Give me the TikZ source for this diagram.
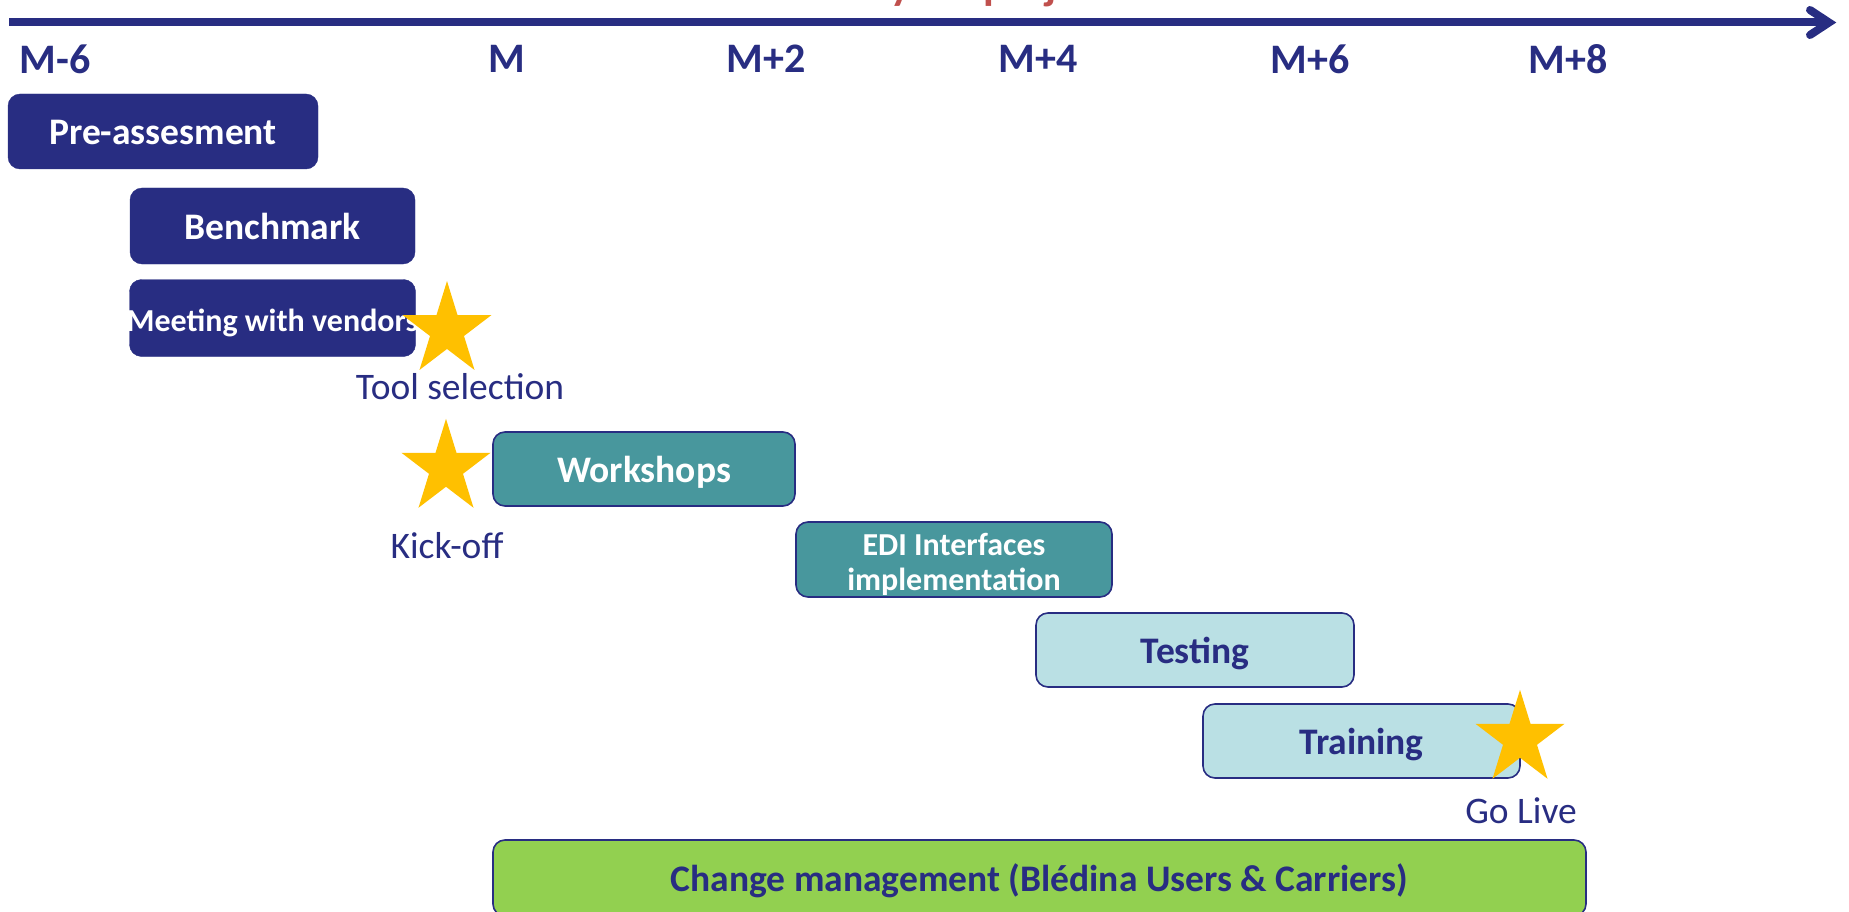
\documentclass[tikz,border=0pt]{standalone}
\usepackage{fontspec}
\setmainfont{Carlito}
\usetikzlibrary{shapes.geometric}
\definecolor{navy}{HTML}{282D82}
\definecolor{tealb}{HTML}{48979D}
\definecolor{lightb}{HTML}{BAE0E4}
\definecolor{greenb}{HTML}{92D050}
\definecolor{gold}{HTML}{FFC000}
\definecolor{redt}{HTML}{C0504D}
\tikzset{
 bar/.style={rectangle, rounded corners=12pt, inner sep=0pt, text height=34pt, text depth=7pt, font=\bfseries\fontsize{37.5}{40}\selectfont, align=center},
 darkbar/.style={bar, fill=navy, draw=navy, text=white},
 tealbar/.style={bar, fill=tealb, draw=navy, line width=1.6pt, text=white},
 lightbar/.style={bar, fill=lightb, draw=navy, line width=1.6pt, text=navy},
 greenbar/.style={bar, fill=greenb, draw=navy, line width=1.6pt, text=navy},
 milestar/.style={star, star points=5, star point ratio=2.618, fill=gold, draw=none, minimum size=93.6pt, inner sep=0pt, yscale=1.05},
 miletext/.style={text=navy, font=\fontsize{37.5}{40}\selectfont, inner sep=0pt},
 monthlabel/.style={text=navy, font=\bfseries\fontsize{42}{46}\selectfont, inner sep=0pt},
 axisline/.style={draw=navy, line width=8pt}
}
\begin{document}
\begin{tikzpicture}[x=1pt,y=-1pt]
\useasboundingbox (0,0) rectangle (1849,912);
% title (cut off at the top edge)
\node[text=redt, font=\bfseries\fontsize{44}{48}\selectfont, anchor=base west, inner sep=0pt] (title) at (890,0) {your project};
% axis
\coordinate (axL) at (9,22.5);
\coordinate (axR) at (1829,22.5);
\coordinate (chevT) at (1810,10);
\coordinate (chevB) at (1810,35);
\draw[axisline] (axL) -- (axR);
\draw[axisline, line join=miter, line cap=round] (chevT) -- (axR) -- (chevB);
% month labels
\node[monthlabel] (m6) at (55,59) {M-6};
\node[monthlabel] (m0) at (507,59) {M};
\node[monthlabel] (m2) at (766,59) {M+2};
\node[monthlabel] (m4) at (1038,59) {M+4};
\node[monthlabel] (m6b) at (1310,59) {M+6};
\node[monthlabel] (m8) at (1568,59) {M+8};
% bars
\node[darkbar, minimum width=310pt, minimum height=75pt] (pre) at (163,131.5) {Pre-assesment};
\node[darkbar, minimum width=285pt, minimum height=76pt] (bench) at (272.5,226) {Benchmark};
\node[darkbar, minimum width=286pt, minimum height=77pt, font=\bfseries\fontsize{32}{35}\selectfont] (meet) at (272.5,318) {\makebox[0pt]{Meeting with vendors}};
\node[tealbar, minimum width=302pt, minimum height=74pt] (work) at (644,469) {Workshops};
\node[tealbar, minimum width=316pt, minimum height=75pt] (edi) at (954,559.5) {};
\node[text=white, font=\bfseries\fontsize{32}{35}\selectfont, align=center, inner sep=0pt] (editext) at ([yshift=-5pt]edi.center) {EDI Interfaces\\implementation};
\node[lightbar, minimum width=318pt, minimum height=74pt] (test) at (1195,650) {Testing};
\node[lightbar, minimum width=317pt, minimum height=74pt] (train) at (1361.5,741) {Training};
\node[greenbar, minimum width=1093pt, minimum height=76pt] (change) at (1039.5,878) {Change management (Blédina Users \& Carriers)};
% milestones
\node[milestar] (s1) at (447,330.2) {};
\node[milestar] (s2) at (446,468) {};
\node[milestar] (s3) at (1520,739) {};
\node[miletext] (t1) at (460,387) {Tool selection};
\node[miletext] (t2) at (447,546) {Kick-off};
\node[miletext] (t3) at (1521,811) {Go Live};
\end{tikzpicture}
\end{document}
